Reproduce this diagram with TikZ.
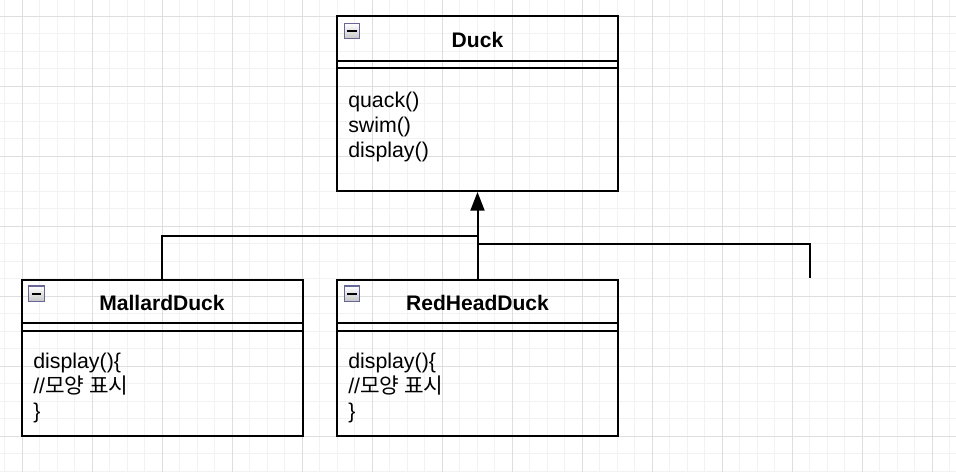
\documentclass[tikz,border=0pt]{standalone}
\usepackage{fontspec}
\setmainfont{Liberation Sans}
\newfontfamily\kofont{Noto Sans CJK KR}
\usetikzlibrary{arrows.meta}
\definecolor{gridminor}{HTML}{F2F2F2}
\definecolor{gridmajor}{HTML}{DEDEDE}
\tikzset{
  clsbox/.style = {draw=black, line width=1.5pt, rectangle, inner sep=0pt, minimum width=210.75pt},
  clsname/.style = {font=\fontsize{15.8}{18}\selectfont\bfseries, inner sep=0pt},
  clsops/.style = {anchor=west, align=left, inner sep=0pt, font=\fontsize{16}{18.5}\selectfont},
  grip/.style = {draw=gray!80!blue, line width=0.8pt, top color=white, bottom color=gray!45,
    minimum size=11.5pt, inner sep=0pt,
    path picture={\draw[line width=1.6pt,black] ([xshift=2.2pt]path picture bounding box.west) -- ([xshift=-2.2pt]path picture bounding box.east);}},
  rule/.style = {line width=1.5pt, black},
  link/.style = {line width=1.5pt, black},
  inherit/.style = {link, -{Triangle[length=14pt,width=10.5pt]}}
}

\begin{document}
\begin{tikzpicture}[x=0.75pt,y=-0.75pt]
\useasboundingbox (0,0) rectangle (956,472);

% background grid
\foreach \x in {4.5,22,...,956} \draw[gridminor,line width=0.75pt] (\x,0) -- (\x,472);
\foreach \y in {16,33.5,...,472} \draw[gridminor,line width=0.75pt] (0,\y) -- (956,\y);
\foreach \x in {22,92,...,956} \draw[gridmajor,line width=0.75pt] (\x,0) -- (\x,472);
\foreach \y in {16,86,...,472} \draw[gridmajor,line width=0.75pt] (0,\y) -- (956,\y);

% Duck
\node [clsbox, minimum height=131.25pt] (duck) at (477.5,103.5) {};
\draw [rule] ([yshift=-34.5pt]duck.north west) -- ([yshift=-34.5pt]duck.north east);
\draw [rule] ([yshift=-40pt]duck.north west) -- ([yshift=-40pt]duck.north east);
\node [grip] (duck-grip) at ([xshift=12pt,yshift=-12pt]duck.north west) {};
\node [clsname] (duck-name) at ([yshift=-19pt]duck.north) {Duck};
\node [clsops] (duck-ops) at (348,127) {quack()\\swim()\\display()};

% MallardDuck
\node [clsbox, minimum height=117pt] (mallard) at (162,358) {};
\draw [rule] ([yshift=-33pt]mallard.north west) -- ([yshift=-33pt]mallard.north east);
\draw [rule] ([yshift=-39pt]mallard.north west) -- ([yshift=-39pt]mallard.north east);
\node [grip] (mallard-grip) at ([xshift=12pt,yshift=-11pt]mallard.north west) {};
\node [clsname] (mallard-name) at ([yshift=-18pt]mallard.north) {MallardDuck};
\node [clsops] (mallard-ops) at (33,388) {display()\{\\//{\kofont 모양 표시}\\\}};

% RedHeadDuck
\node [clsbox, minimum height=117pt] (redhead) at (477.5,358) {};
\draw [rule] ([yshift=-33pt]redhead.north west) -- ([yshift=-33pt]redhead.north east);
\draw [rule] ([yshift=-39pt]redhead.north west) -- ([yshift=-39pt]redhead.north east);
\node [grip] (redhead-grip) at ([xshift=12pt,yshift=-11pt]redhead.north west) {};
\node [clsname] (redhead-name) at ([yshift=-18pt]redhead.north) {RedHeadDuck};
\node [clsops] (redhead-ops) at (348,388) {display()\{\\//{\kofont 모양 표시}\\\}};

% generalization
\coordinate (join-left) at (477.5,235.5);
\coordinate (join-right) at (477.5,243.5);
\coordinate (stub) at (810,278);
\draw [inherit] (redhead.north) -- (duck.south);
\draw [link] (mallard.north) |- (join-left);
\draw [link] (join-right) -| (stub);
\end{tikzpicture}
\end{document}
